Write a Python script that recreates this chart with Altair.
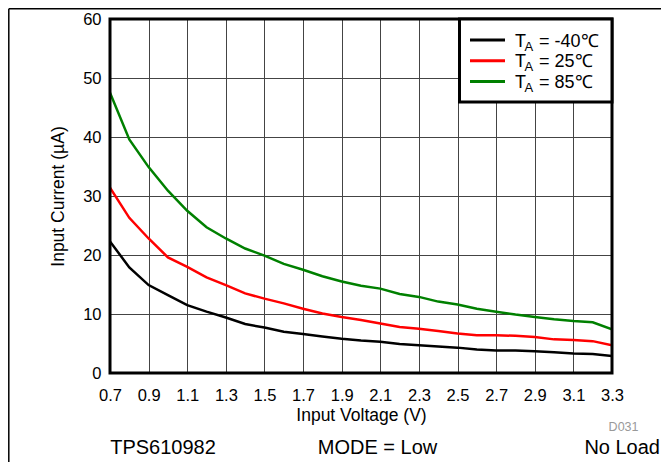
import altair as alt
import pandas as pd

# ---- data ----
voltage = [0.7, 0.8, 0.9, 1.0, 1.1, 1.2, 1.3, 1.4, 1.5, 1.6, 1.7, 1.8, 1.9, 2.0,
           2.1, 2.2, 2.3, 2.4, 2.5, 2.6, 2.7, 2.8, 2.9, 3.0, 3.1, 3.2, 3.3]
current_m40 = [22.3, 17.9, 14.9, 13.2, 11.5, 10.4, 9.4, 8.3, 7.7, 7.0, 6.6, 6.2, 5.8, 5.5,
               5.3, 4.9, 4.7, 4.5, 4.3, 4.0, 3.8, 3.8, 3.7, 3.5, 3.3, 3.2, 2.9]
current_25 = [31.4, 26.3, 22.8, 19.6, 18.0, 16.2, 14.9, 13.5, 12.6, 11.8, 10.9, 10.1, 9.5, 9.0,
              8.4, 7.8, 7.5, 7.1, 6.7, 6.4, 6.4, 6.3, 6.1, 5.7, 5.6, 5.4, 4.7]
current_85 = [47.5, 39.6, 34.9, 30.9, 27.5, 24.7, 22.8, 21.1, 19.9, 18.5, 17.5, 16.4, 15.5, 14.8,
              14.3, 13.4, 12.9, 12.1, 11.6, 10.9, 10.4, 9.9, 9.5, 9.1, 8.8, 8.6, 7.4]

series_keys = ["-40", "25", "85"]
series_labels = ["= -40\u2103", "= 25\u2103", "= 85\u2103"]
series_colors = ["#000000", "#ff0000", "#008000"]
series_values = [current_m40, current_25, current_85]

x_ticks = [0.7, 0.9, 1.1, 1.3, 1.5, 1.7, 1.9, 2.1, 2.3, 2.5, 2.7, 2.9, 3.1, 3.3]
y_ticks = [0, 10, 20, 30, 40, 50, 60]

FONT = "Liberation Sans"
W, H = 502, 354

rows = []
for key, vals in zip(series_keys, series_values):
    for v, i in zip(voltage, vals):
        rows.append({"V": v, "I": i, "series": key})
df = pd.DataFrame(rows)
one = pd.DataFrame({"k": [0]})

lines = alt.Chart(df).mark_line(strokeWidth=2.5, clip=True).encode(
    x=alt.X("V:Q", scale=alt.Scale(domain=[0.7, 3.3], nice=False, zero=False),
            axis=alt.Axis(values=x_ticks, format=".1f", title="Input Voltage (V)",
                          ticks=False, domain=False, labelPadding=14, titlePadding=3,
                          labelFontSize=16.5, titleFontSize=17.5,
                          grid=True, gridColor="#444444", gridWidth=1,
                          labelFont=FONT, titleFont=FONT, labelColor="#000", titleColor="#000",
                          titleFontWeight="normal", labelFlush=False)),
    y=alt.Y("I:Q", scale=alt.Scale(domain=[0, 60], nice=False),
            axis=alt.Axis(values=y_ticks, title="Input Current (\u00b5A)",
                          ticks=False, domain=False, labelPadding=9, titlePadding=15,
                          labelFontSize=16.5, titleFontSize=17.5,
                          grid=True, gridColor="#444444", gridWidth=1,
                          labelFont=FONT, titleFont=FONT, labelColor="#000", titleColor="#000",
                          titleFontWeight="normal", labelFlush=False)),
    color=alt.Color("series:N", scale=alt.Scale(domain=series_keys, range=series_colors), legend=None),
    order="V:Q",
)

border = alt.Chart(one).mark_rect(filled=False, stroke="#000", strokeWidth=3).encode(
    x=alt.value(0), x2=alt.value(W), y=alt.value(0), y2=alt.value(H))

legend_box = alt.Chart(one).mark_rect(fill="#ffffff", stroke="#000", strokeWidth=3).encode(
    x=alt.value(349.5), x2=alt.value(W), y=alt.value(0), y2=alt.value(83))

layers = [lines, border, legend_box]
for i, (lab, col) in enumerate(zip(series_labels, series_colors)):
    dy = 20.7 * i
    layers.append(alt.Chart(one).mark_rule(color=col, strokeWidth=3).encode(
        x=alt.value(360), x2=alt.value(395), y=alt.value(21 + dy)))
    layers.append(alt.Chart(one).mark_text(text="T", font=FONT, fontSize=18, align="left",
                                           baseline="alphabetic", color="#000").encode(
        x=alt.value(405), y=alt.value(27.7 + dy)))
    layers.append(alt.Chart(one).mark_text(text="A", font=FONT, fontSize=13, align="left",
                                           baseline="alphabetic", color="#000").encode(
        x=alt.value(414.5), y=alt.value(31.5 + dy)))
    layers.append(alt.Chart(one).mark_text(text=lab, font=FONT, fontSize=18, align="left",
                                           baseline="alphabetic", color="#000").encode(
        x=alt.value(429), y=alt.value(27.7 + dy)))

# bottom annotations
layers.append(alt.Chart(one).mark_text(text="D031", font=FONT, fontSize=12.5, align="right",
                                       baseline="alphabetic", color="#999999").encode(
    x=alt.value(528.5), y=alt.value(411.5)))
layers.append(alt.Chart(one).mark_text(text="TPS610982", font=FONT, fontSize=20, align="center",
                                       baseline="alphabetic", color="#000").encode(
    x=alt.value(53), y=alt.value(435)))
layers.append(alt.Chart(one).mark_text(text="MODE = Low", font=FONT, fontSize=20, align="center",
                                       baseline="alphabetic", color="#000").encode(
    x=alt.value(267.5), y=alt.value(435)))
layers.append(alt.Chart(one).mark_text(text="No Load", font=FONT, fontSize=20, align="right",
                                       baseline="alphabetic", color="#000").encode(
    x=alt.value(550), y=alt.value(435)))

# page frame lines
layers.append(alt.Chart(one).mark_rule(color="#000", strokeWidth=1.5).encode(
    x=alt.value(-101.2), y=alt.value(-10.2), y2=alt.value(446)))
layers.append(alt.Chart(one).mark_rule(color="#000", strokeWidth=1.5).encode(
    x=alt.value(-101.2), x2=alt.value(560), y=alt.value(-10.2)))

chart = alt.layer(*layers).properties(
    width=W, height=H,
    autosize=alt.AutoSizeParams(type="none"),
    padding={"left": 102, "top": 11, "right": 49, "bottom": 89},
).configure_view(stroke=None).configure(background="#ffffff")

chart.save("out.html", embed_options={"renderer": "svg", "actions": False})
